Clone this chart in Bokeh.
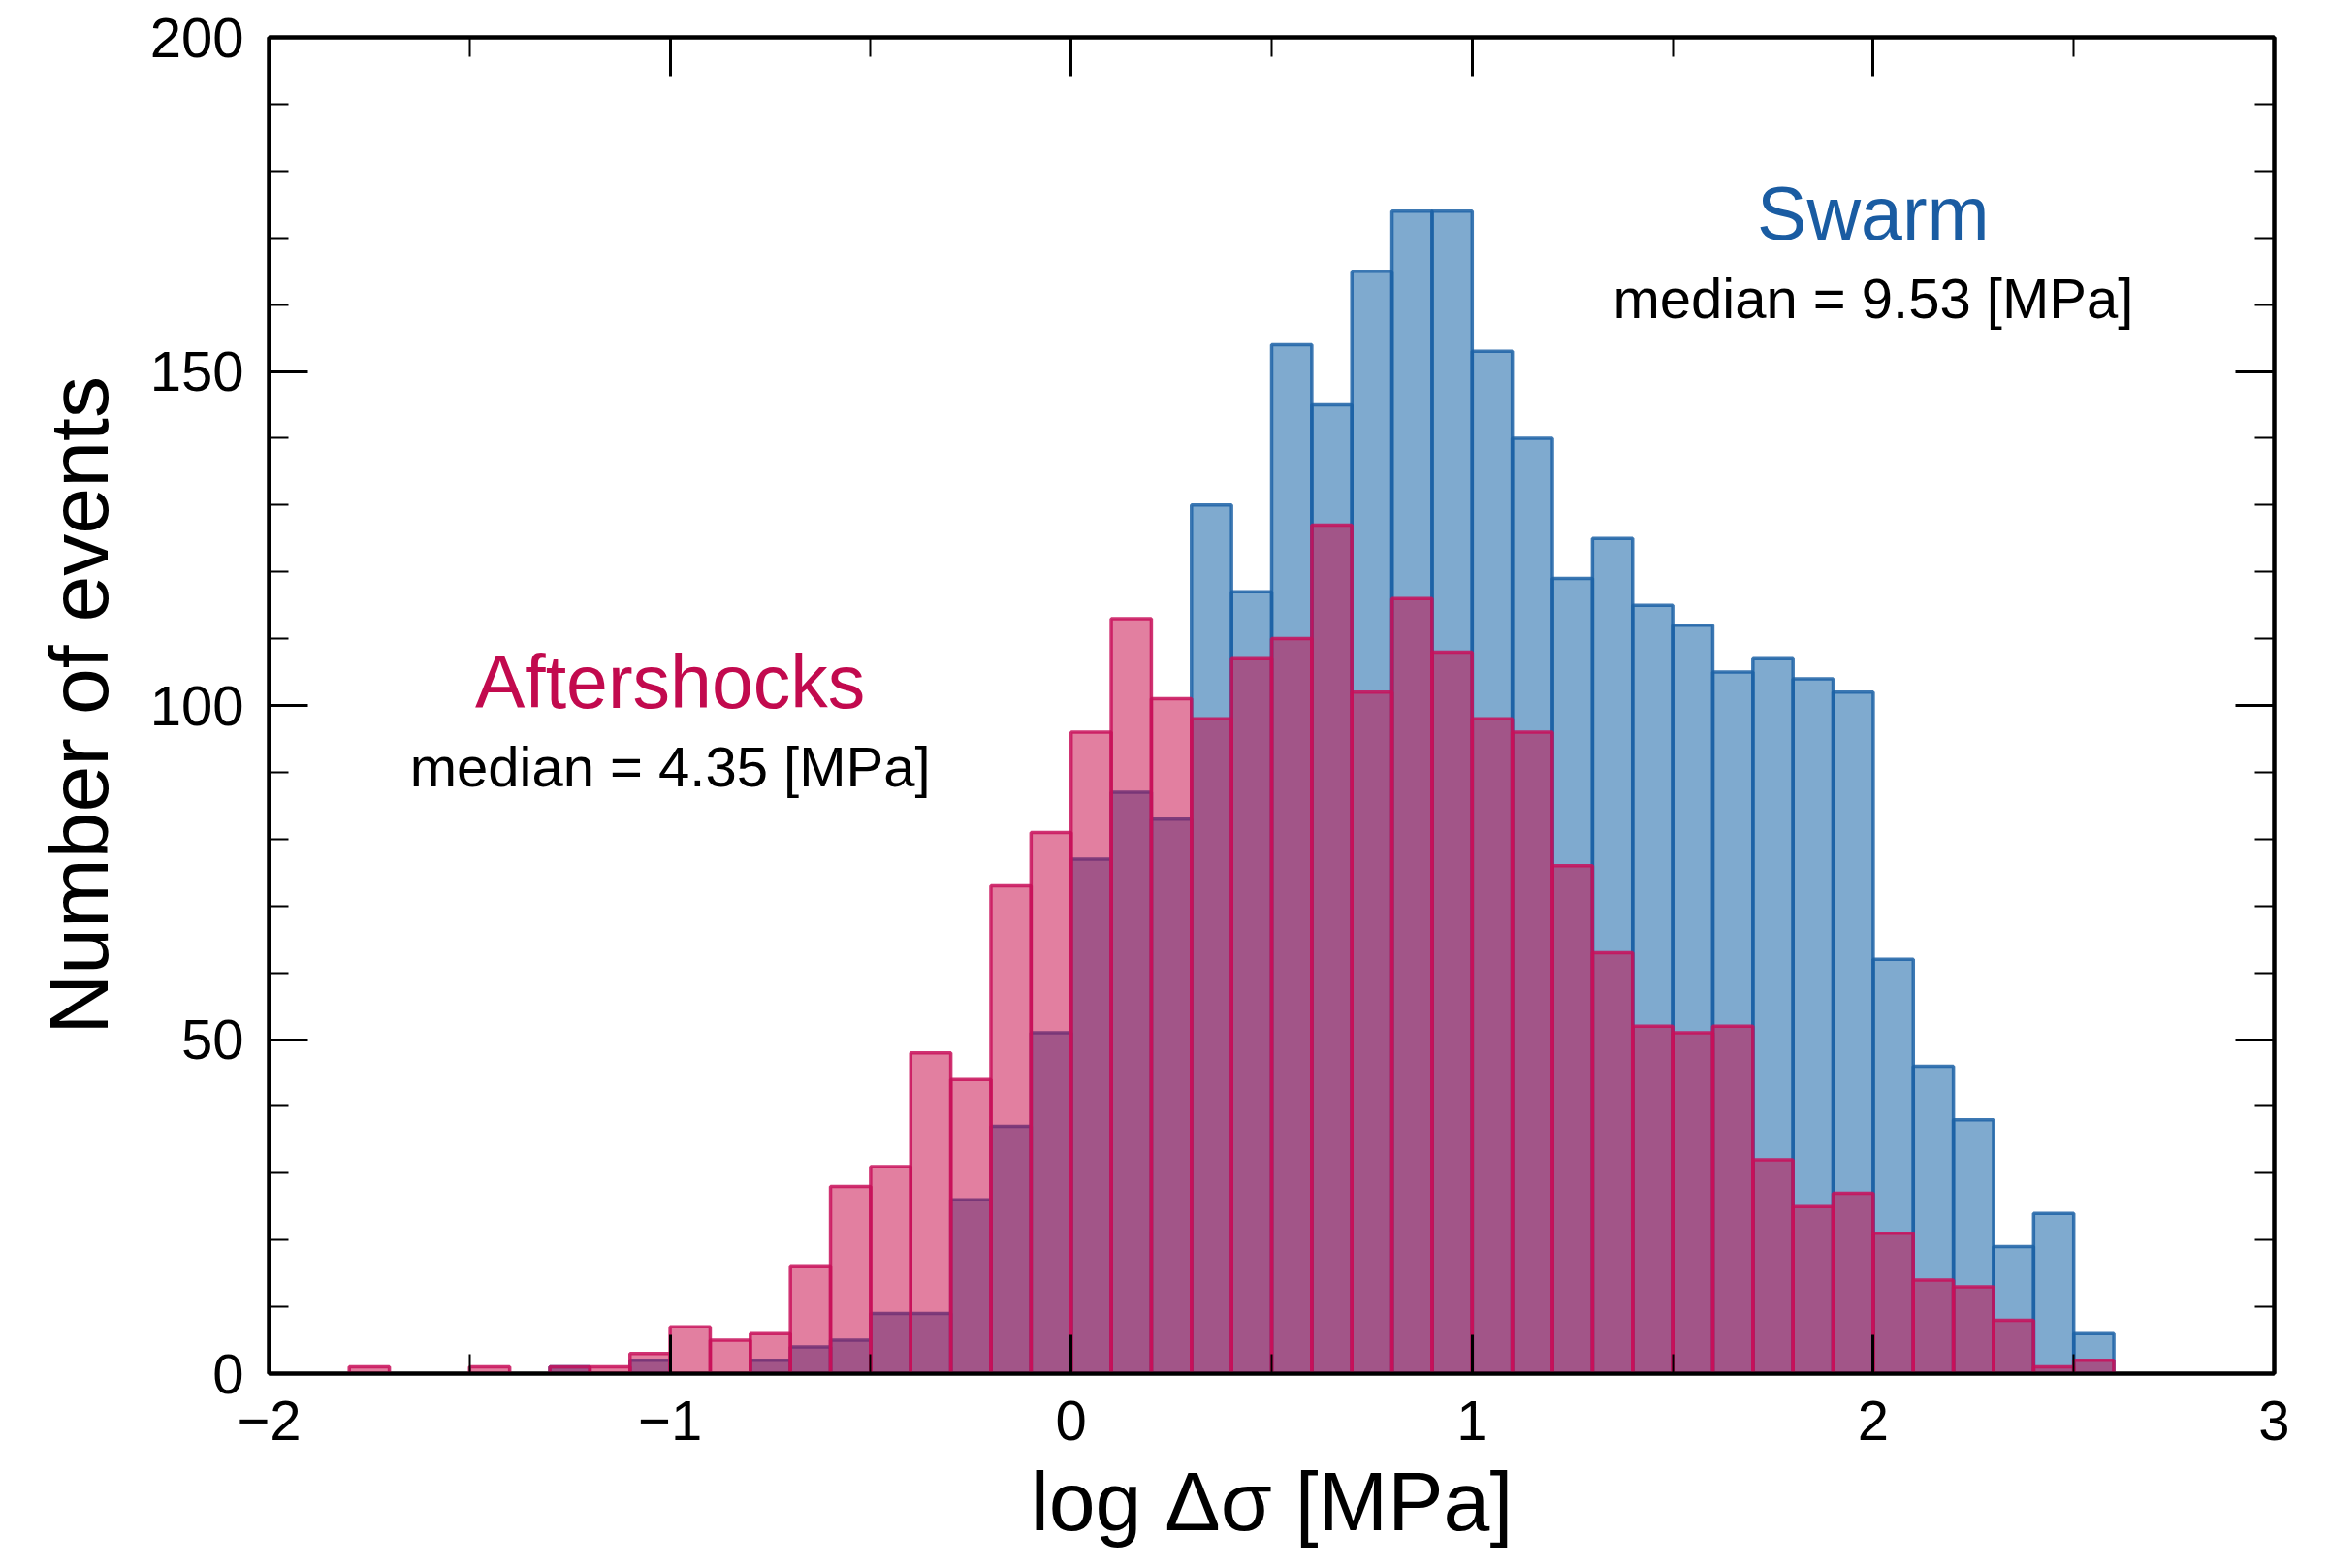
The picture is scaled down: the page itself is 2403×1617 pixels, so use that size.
from bokeh.plotting import figure
from bokeh.models import LinearAxis, Range1d, SingleIntervalTicker, ColumnDataSource
from bokeh.core.properties import value
from bokeh.embed import file_html
from bokeh.resources import INLINE

# ---- data ----
bin_left = [-1.8, -1.7, -1.6, -1.5, -1.4, -1.3, -1.2, -1.1, -1.0, -0.9,
            -0.8, -0.7, -0.6, -0.5, -0.4, -0.3, -0.2, -0.1, 0.0, 0.1,
            0.2, 0.3, 0.4, 0.5, 0.6, 0.7, 0.8, 0.9, 1.0, 1.1,
            1.2, 1.3, 1.4, 1.5, 1.6, 1.7, 1.8, 1.9, 2.0, 2.1,
            2.2, 2.3, 2.4, 2.5]
bin_width = 0.1

swarm_counts = [0, 0, 0, 0, 0, 1, 0, 2, 0, 0,
                2, 4, 5, 9, 9, 26, 37, 51, 77, 87,
                83, 130, 117, 154, 145, 165, 174, 174, 153, 140,
                119, 125, 115, 112, 105, 107, 104, 102, 62, 46,
                38, 19, 24, 6]

aftershock_counts = [1, 0, 0, 1, 0, 1, 1, 3, 7, 5,
                     6, 16, 28, 31, 48, 44, 73, 81, 96, 113,
                     101, 98, 107, 110, 127, 102, 116, 108, 98, 96,
                     76, 63, 52, 51, 52, 32, 25, 27, 21, 14,
                     13, 8, 1, 2]

x_ticks_major = 1
y_ticks_major = 50

series_names = ["Swarm", "Aftershocks"]
median_texts = ["median = 9.53 [MPa]", "median = 4.35 [MPa]"]
name_x = [2.0, -1.0]
name_y = [173.7, 103.6]
median_y = [161.0, 90.9]

FONT = "Liberation Sans"
BLUE = "#0055A0"
BLUE_EDGE = "#1C62A6"
PINK = "#C50041"
PINK_EDGE = "#C8105A"
BLUE_TEXT = "#1A5CA2"
PINK_TEXT = "#C20A4E"


def hist_source(counts):
    rows = [(l, l + bin_width, c) for l, c in zip(bin_left, counts) if c > 0]
    return ColumnDataSource(dict(left=[r[0] for r in rows],
                                 right=[r[1] for r in rows],
                                 top=[r[2] for r in rows],
                                 bottom=[0] * len(rows)))


p = figure(frame_width=2068, frame_height=1378,
           x_range=Range1d(-2, 3), y_range=Range1d(0, 200),
           output_backend="svg", toolbar_location=None,
           min_border_left=277, min_border_right=58,
           min_border_top=38, min_border_bottom=201,
           x_axis_label="log Δσ [MPa]", y_axis_label="Number of events")
p.background_fill_color = "white"
p.border_fill_color = "white"
p.grid.visible = False
p.outline_line_color = "black"
p.outline_line_width = 4

p.quad(left="left", right="right", top="top", bottom="bottom", source=hist_source(swarm_counts),
       fill_color=BLUE, fill_alpha=0.5, line_color=BLUE_EDGE, line_width=3.5, line_alpha=0.85)
p.quad(left="left", right="right", top="top", bottom="bottom", source=hist_source(aftershock_counts),
       fill_color=PINK, fill_alpha=0.5, line_color=PINK_EDGE, line_width=3.5, line_alpha=0.85)

# annotations
p.text(x=[name_x[0]], y=[name_y[0]], text=[series_names[0]], text_font=value(FONT),
       text_font_size=value("77px"), text_align="center", text_baseline="alphabetic",
       text_color=BLUE_TEXT)
p.text(x=[name_x[1]], y=[name_y[1]], text=[series_names[1]], text_font=value(FONT),
       text_font_size=value("77px"), text_align="center", text_baseline="alphabetic",
       text_color=PINK_TEXT)
p.text(x=name_x, y=median_y, text=median_texts, text_font=value(FONT),
       text_font_size=value("58px"), text_align="center", text_baseline="alphabetic",
       text_color="black")

xt = SingleIntervalTicker(interval=x_ticks_major, num_minor_ticks=2)
yt = SingleIntervalTicker(interval=y_ticks_major, num_minor_ticks=5)


def style_axis(ax, labels=True):
    ax.axis_line_width = 4
    ax.axis_line_color = "black"
    ax.major_tick_in = 40
    ax.major_tick_out = 0
    ax.minor_tick_in = 20
    ax.minor_tick_out = 0
    ax.major_tick_line_width = 3
    ax.minor_tick_line_width = 2
    ax.major_tick_line_color = "black"
    ax.minor_tick_line_color = "black"
    if labels:
        ax.major_label_text_font = FONT
        ax.major_label_text_font_size = "58px"
        ax.major_label_text_color = "black"
        ax.axis_label_text_font = FONT
        ax.axis_label_text_font_size = "86px"
        ax.axis_label_text_font_style = "normal"
        ax.axis_label_text_color = "black"
    else:
        ax.major_label_text_font_size = "1px"
        ax.major_label_text_color = None
        ax.major_label_standoff = 0


p.xaxis.ticker = xt
p.yaxis.ticker = yt
style_axis(p.xaxis[0])
style_axis(p.yaxis[0])
p.xaxis.major_label_overrides = {-2: "−2", -1: "−1"}
p.xaxis.major_label_standoff = 28
p.xaxis.axis_label_standoff = 12
p.yaxis.major_label_standoff = 26
p.yaxis.axis_label_standoff = 23

top_ax = LinearAxis(ticker=SingleIntervalTicker(interval=x_ticks_major, num_minor_ticks=2))
right_ax = LinearAxis(ticker=SingleIntervalTicker(interval=y_ticks_major, num_minor_ticks=5))
style_axis(top_ax, labels=False)
style_axis(right_ax, labels=False)
p.add_layout(top_ax, "above")
p.add_layout(right_ax, "right")

open("out.html", "w").write(file_html(p, INLINE))
